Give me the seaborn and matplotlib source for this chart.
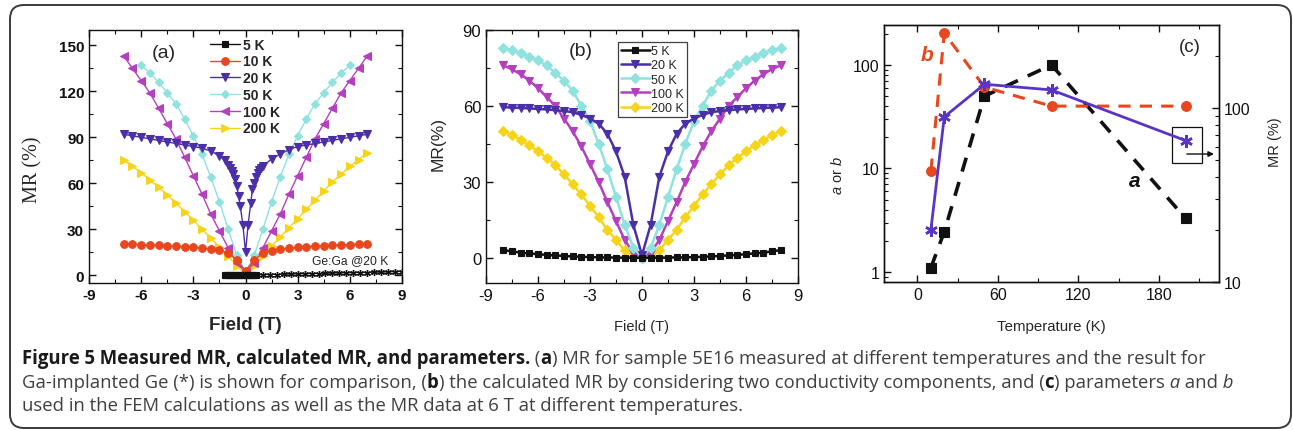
import numpy as np
import pandas as pd
import seaborn as sns
import matplotlib.pyplot as plt
from matplotlib.font_manager import FontProperties
from matplotlib.patches import FancyBboxPatch, Rectangle
from matplotlib.transforms import IdentityTransform
from matplotlib.ticker import MultipleLocator, FuncFormatter

# ---------- panel (a): measured MR ----------
xa_5 = [-1.2, -1.1, -1.0, -0.9, -0.8, -0.7, -0.6, -0.5, -0.4, -0.3, -0.2, -0.1, 0.0, 0.1, 0.2, 0.3, 0.4, 0.5, 0.6]
ya_5 = [0.3, 0.3, 0.2, 0.2, 0.2, 0.1, 0.1, 0.1, 0.0, 0.0, 0.0, 0.0, 0.0, 0.0, 0.0, 0.0, 0.1, 0.1, 0.2]
xa_gega = [0.2, 0.6, 1.0, 1.4, 1.8, 2.2, 2.6, 3.0, 3.4, 3.8, 4.2, 4.6, 5.0, 5.4, 5.8, 6.2, 6.6, 7.0, 7.4, 7.8, 8.2, 8.6, 9.0]
ya_gega = [0.1, 0.2, 0.3, 0.4, 0.5, 0.6, 0.7, 0.8, 0.9, 1.0, 1.1, 1.2, 1.3, 1.4, 1.5, 1.6, 1.7, 1.8, 1.9, 2.0, 2.1, 2.3, 2.4]
xa_half = [-7, -6.5, -6, -5.5, -5, -4.5, -4, -3.5, -3, -2.5, -2, -1.5, -1, -0.5, 0,
           0.5, 1, 1.5, 2, 2.5, 3, 3.5, 4, 4.5, 5, 5.5, 6, 6.5, 7]
ya_10 = [20.5, 20.3, 20, 19.8, 19.5, 19.2, 19, 18.7, 18.3, 17.8, 17.2, 16.2, 14.8, 10, 3,
         10, 14.5, 16, 17, 17.6, 18.2, 18.6, 19, 19.3, 19.6, 19.9, 20.1, 20.3, 20.5]
xa_20 = [-7, -6.5, -6, -5.5, -5, -4.5, -4, -3.5, -3, -2.5, -2, -1.5, -1.2, -1.0, -0.9, -0.8,
         -0.7, -0.6, -0.5, -0.4, -0.3, -0.15, 0, 0.15, 0.3, 0.4, 0.5, 0.6, 0.7, 0.8, 0.9,
         1.0, 1.5, 2, 2.5, 3, 3.5, 4, 4.5, 5, 5.5, 6, 6.5, 7]
ya_20 = [92, 91, 90, 89, 88, 87, 86, 85, 84, 83, 81, 78, 75, 72, 70, 68,
         66, 63, 58, 52, 45, 33, 15, 33, 47, 56, 60, 64, 67, 69, 70,
         71, 76, 79, 82, 84, 85, 86, 87, 88, 89, 90, 91, 92]
xa_50 = [-6, -5.5, -5, -4.5, -4, -3.5, -3, -2.5, -2, -1.5, -1, -0.5, 0,
         0.5, 1, 1.5, 2, 2.5, 3, 3.5, 4, 4.5, 5, 5.5, 6]
ya_50 = [137, 132, 126, 119, 112, 102, 91, 79, 64, 48, 30, 13, 2,
         13, 30, 48, 64, 79, 91, 102, 112, 119, 126, 132, 137]
ya_100 = [143, 135, 127, 119, 109, 99, 89, 77, 65, 53, 40, 29, 18, 8, 2,
          8, 18, 29, 40, 53, 65, 77, 89, 99, 109, 119, 127, 135, 143]
ya_200 = [75, 71, 67, 62, 57.5, 52.5, 47, 41.5, 36, 30, 24.5, 18.5, 12.5, 6, 1,
          6, 12.5, 19, 25, 31, 37, 43, 49, 55, 61, 66, 71, 75.5, 80]

# ---------- panel (b): calculated MR ----------
xb = [-8, -7.5, -7, -6.5, -6, -5.5, -5, -4.5, -4, -3.5, -3, -2.5, -2, -1.5, -1, -0.5, 0,
      0.5, 1, 1.5, 2, 2.5, 3, 3.5, 4, 4.5, 5, 5.5, 6, 6.5, 7, 7.5, 8]
yb_5 = [3, 2.5, 2, 1.7, 1.4, 1.1, 0.9, 0.7, 0.5, 0.35, 0.25, 0.15, 0.1, 0.05, 0, 0, 0,
        0, 0, 0.05, 0.1, 0.15, 0.25, 0.35, 0.5, 0.7, 0.9, 1.1, 1.4, 1.7, 2, 2.5, 3]
yb_20 = [59.5, 59.3, 59.2, 59, 58.8, 58.6, 58.3, 58, 57.5, 56.5, 55, 53, 49, 42, 32, 13, 1,
         13, 32, 42, 49, 53, 55, 56.5, 57.5, 58, 58.3, 58.6, 58.8, 59, 59.2, 59.3, 59.5]
yb_50 = [83, 82, 81, 79.5, 78, 76, 73, 70, 66, 60, 54, 45, 35, 24, 13, 4, 0,
         4, 13, 24, 35, 45, 54, 60, 66, 70, 73, 76, 78, 79.5, 81, 82, 83]
yb_100 = [76, 74.5, 72.5, 70, 67, 63.5, 60, 55, 50, 44, 37, 30, 22, 14.5, 7, 2, 0,
          2, 7, 14.5, 22, 30, 37, 44, 50, 55, 60, 63.5, 67, 70, 72.5, 74.5, 76]
yb_200 = [50, 48.5, 46.5, 44.5, 42, 39.5, 36.5, 33, 29, 25, 20.5, 16, 11, 7, 3, 1, 0,
          1, 3, 7, 11, 16, 20.5, 25, 29, 33, 36.5, 39.5, 42, 44.5, 46.5, 48.5, 50]

# ---------- panel (c): parameters ----------
temps = [10, 20, 50, 100, 200]
param_a = [1.1, 2.45, 50, 100, 3.3]
param_b = [9.5, 203, 61, 40, 40]
mr_6T = [20, 89, 137, 127, 65]

labels_a = ['5 K', '10 K', '20 K', '50 K', '100 K', '200 K']
labels_b = ['5 K', '20 K', '50 K', '100 K', '200 K']
ticks_field = [-9, -6, -3, 0, 3, 6, 9]
ticks_mr_a = [0, 30, 60, 90, 120, 150]

BLACK = '#111111'
RED = '#e8461c'
NAVY = '#4a2fa8'
CYAN = '#8fe2de'
MAGENTA = '#b440c0'
YELLOW = '#f6d41a'
PURPLE = '#5a34c6'

sns.set_style('ticks')
plt.rcParams['font.family'] = ['Liberation Sans', 'DejaVu Sans']
plt.rcParams['axes.unicode_minus'] = False
plt.rcParams['xtick.direction'] = 'in'
plt.rcParams['ytick.direction'] = 'in'
plt.rcParams['axes.edgecolor'] = '#111111'
plt.rcParams['axes.linewidth'] = 1.0
plt.rcParams['mathtext.fontset'] = 'custom'
plt.rcParams['mathtext.it'] = 'Liberation Sans:italic'
plt.rcParams['mathtext.rm'] = 'Liberation Sans'

fig = plt.figure(figsize=(12.93, 4.31), dpi=100)
fig.patch.set_facecolor('white')


def series(ax, x, y, color, marker, label=None, ms=5, lw=1.0, ls='-', mew=0.8):
    sns.lineplot(x=x, y=y, ax=ax, color=color, marker=marker, markersize=ms,
                 linewidth=lw, linestyle=ls, markeredgecolor=color,
                 markeredgewidth=mew, sort=False, estimator=None, label=label,
                 legend=False)
    return ax.get_lines()[-1]


def frame_ticks(ax, size):
    ax.tick_params(which='both', direction='in', top=True, right=True,
                   labelsize=size, colors='#111111')
    ax.tick_params(which='major', length=5, width=1)
    ax.tick_params(which='minor', length=3, width=0.8)


# ----- (a) -----
ax_a = fig.add_axes([89 / 1293, 1 - 284 / 431, 313 / 1293, 253 / 431])
h200 = series(ax_a, xa_half, ya_200, YELLOW, '>', ms=5.5)
h100 = series(ax_a, xa_half, ya_100, MAGENTA, '<', ms=5.5)
h50 = series(ax_a, xa_50, ya_50, CYAN, 'D', ms=4.2)
h20 = series(ax_a, xa_20, ya_20, NAVY, 'v', ms=5.5)
h10 = series(ax_a, xa_half, ya_10, RED, 'o', ms=5.5)
series(ax_a, xa_gega, ya_gega, BLACK, (6, 2, 0), ms=5, lw=0.6, mew=1.0)
h5 = series(ax_a, xa_5, ya_5, BLACK, 's', ms=4.5)
ax_a.set_xlim(-9, 9)
ax_a.set_ylim(-5, 160)
ax_a.set_xticks(ticks_field)
ax_a.set_xticklabels([str(t) for t in ticks_field], fontweight='bold')
ax_a.set_yticks(ticks_mr_a)
ax_a.set_yticklabels([str(t) for t in ticks_mr_a], fontweight='bold')
ax_a.xaxis.set_minor_locator(MultipleLocator(1.5))
ax_a.yaxis.set_minor_locator(MultipleLocator(15))
frame_ticks(ax_a, 11)
ax_a.set_xlabel('Field (T)', fontsize=13.5, fontweight='bold')
ax_a.xaxis.set_label_coords(0.5, -0.13)
ax_a.set_ylabel('MR (%)', fontsize=14.5, family=['Liberation Serif', 'DejaVu Serif'])
ax_a.yaxis.set_label_coords(-0.15, 0.45)
ax_a.text(0.24, 0.913, '(a)', transform=ax_a.transAxes, fontsize=14,
          ha='center', va='center')
ax_a.text(0.834, 0.09, 'Ge:Ga @20 K', transform=ax_a.transAxes, fontsize=8.7,
          ha='center', va='center')
leg = ax_a.legend([h5, h10, h20, h50, h100, h200], labels_a, loc='upper left',
                  bbox_to_anchor=(0.385, 0.97), frameon=False, borderpad=0,
                  borderaxespad=0, handlelength=2.2, handletextpad=0.2,
                  labelspacing=0.2, prop={'size': 10, 'weight': 'bold'})

# ----- (b) -----
ax_b = fig.add_axes([486 / 1293, 1 - 284 / 431, 312 / 1293, 253 / 431])
g200 = series(ax_b, xb, yb_200, YELLOW, 'D', ms=4.6, lw=1.8)
g100 = series(ax_b, xb, yb_100, MAGENTA, 'v', ms=6, lw=1.8)
g50 = series(ax_b, xb, yb_50, CYAN, 'D', ms=4.6, lw=1.8)
g20 = series(ax_b, xb, yb_20, NAVY, 'v', ms=6, lw=1.8)
g5 = series(ax_b, xb, yb_5, BLACK, 's', ms=5, lw=1.8)
ax_b.set_xlim(-9, 9)
ax_b.set_ylim(-10, 90)
ax_b.xaxis.set_major_locator(MultipleLocator(3))
ax_b.xaxis.set_minor_locator(MultipleLocator(1.5))
ax_b.yaxis.set_major_locator(MultipleLocator(30))
ax_b.yaxis.set_minor_locator(MultipleLocator(15))
frame_ticks(ax_b, 12)
ax_b.set_xlabel('Field (T)', fontsize=10.5)
ax_b.xaxis.set_label_coords(0.5, -0.142)
ax_b.set_ylabel('MR(%)', fontsize=12.5)
ax_b.yaxis.set_label_coords(-0.131, 0.553)
ax_b.text(0.304, 0.917, '(b)', transform=ax_b.transAxes, fontsize=14,
          ha='center', va='center')
leg_b = ax_b.legend([g5, g20, g50, g100, g200], labels_b, loc='upper left',
                    bbox_to_anchor=(0.423, 0.953), frameon=True, fancybox=False,
                    edgecolor='#111111', borderpad=0.25, borderaxespad=0,
                    handlelength=2.3, handletextpad=0.1, labelspacing=0.18,
                    prop={'size': 9})
leg_b.get_frame().set_linewidth(0.9)

# ----- (c) -----
ax_c = fig.add_axes([884 / 1293, 1 - 283 / 431, 335 / 1293, 257 / 431])
series(ax_c, temps, param_a, BLACK, 's', ms=6.5, lw=2.6, ls=(0, (4, 3)))
series(ax_c, temps, param_b, RED, 'o', ms=7, lw=2.2, ls=(0, (4, 3)))
ax_c.set_yscale('log')
ax_c.set_xlim(-25, 225)
ax_c.set_ylim(0.8, 243)
ax_c.xaxis.set_major_locator(MultipleLocator(60))
ax_c.xaxis.set_minor_locator(MultipleLocator(30))
ax_c.yaxis.set_major_formatter(FuncFormatter(lambda v, p: '%g' % v))
ax_c.tick_params(which='both', direction='in', top=True, right=False,
                 labelsize=11.5, colors='#111111')
ax_c.tick_params(which='major', length=5, width=1)
ax_c.tick_params(which='minor', length=3, width=0.8)
ax_c.set_xlabel('Temperature (K)', fontsize=10.8)
ax_c.xaxis.set_label_coords(0.501, -0.144)
ax_c.set_ylabel(r'$\it{a}$ or $\it{b}$', fontsize=10.5)
ax_c.yaxis.set_label_coords(-0.116, 0.42)

ax_r = ax_c.twinx()
series(ax_r, temps, mr_6T, PURPLE, (6, 2, 0), ms=9, lw=2.0, mew=1.8)
ax_r.set_yscale('log')
ax_r.set_ylim(10, 300)
ax_r.yaxis.set_major_formatter(FuncFormatter(lambda v, p: '%g' % v))
ax_r.tick_params(which='both', direction='in', labelsize=11.5, colors='#111111')
ax_r.tick_params(which='major', length=5, width=1)
ax_r.tick_params(which='minor', length=3, width=0.8)
ax_r.set_ylabel('MR (%)', fontsize=10.5)
ax_r.yaxis.set_label_coords(1.146, 0.549)
ax_r.grid(False)
ax_c.grid(False)

ax_c.text(0.913, 0.918, '(c)', transform=ax_c.transAxes, fontsize=13.5,
          ha='center', va='center')
ax_c.text(0.128, 0.887, 'b', transform=ax_c.transAxes, fontsize=15,
          fontweight='bold', fontstyle='italic', color=RED, ha='center', va='center')
ax_c.text(0.749, 0.393, 'a', transform=ax_c.transAxes, fontsize=15,
          fontweight='bold', fontstyle='italic', color=BLACK, ha='center', va='center')
ax_r.add_patch(Rectangle((0.860, 0.463), 0.089, 0.140, transform=ax_r.transAxes,
                         fill=False, edgecolor='#111111', lw=0.9, clip_on=False))
ax_r.annotate('', xy=(0.985, 0.498), xytext=(0.904, 0.498),
              xycoords='axes fraction', textcoords='axes fraction',
              arrowprops=dict(arrowstyle='-|>', color='#111111', lw=1.0,
                              mutation_scale=8, shrinkA=0, shrinkB=0),
              annotation_clip=False)

# ----- rounded border -----
fig.add_artist(FancyBboxPatch((10, 2), 1281, 423, boxstyle='round,pad=0,rounding_size=14',
                              transform=IdentityTransform(), fill=False,
                              edgecolor='#3a3a3a', lw=1.4))

# ----- caption -----
BOLD = {'family': 'Open Sans', 'weight': 'bold', 'style': 'normal'}
REG = {'family': 'Open Sans', 'weight': 'normal', 'style': 'normal'}
REG_IT = {'family': 'Open Sans', 'weight': 'normal', 'style': 'italic'}
cap_lines = [
    [('Figure 5 Measured MR, calculated MR, and parameters.', BOLD),
     (' (', REG), ('a', BOLD),
     (') MR for sample 5E16 measured at different temperatures and the result for', REG)],
    [('Ga-implanted Ge (*) is shown for comparison, (', REG),
     ('b', BOLD),
     (') the calculated MR by considering two conductivity components, and (', REG),
     ('c', BOLD), (') parameters', REG),
     (' a', REG_IT), (' and', REG), (' b', REG_IT)],
    [('used in the FEM calculations as well as the MR data at 6 T at different temperatures.',
      REG)],
]
baselines = [431 - 364, 431 - 388, 431 - 411]

renderer = fig.canvas.get_renderer()


def put_line(parts, y, size, draw=True):
    x = 22
    made = []
    for txt, fp in parts:
        t = fig.text(x, y, txt, transform=IdentityTransform(),
                     fontproperties=FontProperties(size=size, **fp),
                     va='baseline', ha='left',
                     color='#1a1a1a' if fp is BOLD else '#404040')
        x += t.get_window_extent(renderer).width
        made.append(t)
    if not draw:
        for t in made:
            t.remove()
    return x - 22


w = put_line(cap_lines[0], baselines[0], 12, draw=False)
cap_size = 12 * 1181 / w
for parts, yb in zip(cap_lines, baselines):
    put_line(parts, yb, cap_size)

fig.savefig('out.png', dpi=100)
